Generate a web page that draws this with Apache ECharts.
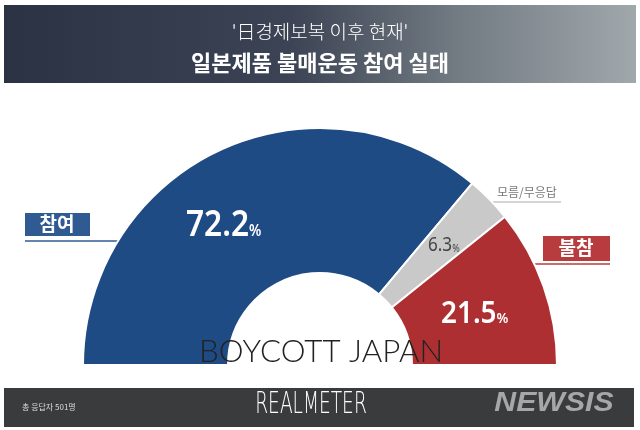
<!DOCTYPE html>
<html><head><meta charset="utf-8">
<script src="https://cdn.jsdelivr.net/npm/echarts@6/dist/echarts.min.js"></script>
<style>html,body{margin:0;padding:0;background:#fff}#c{width:640px;height:430px}</style>
</head><body><div id="c"></div>
<script>
const categories = ['참여', '모름/무응답', '불참'];
const values = [72.2, 6.3, 21.5];
const colors = ['#1f4b84', '#c9c9c9', '#ad2f31'];
const titleLine1 = "'日경제보복 이후 현재'";
const titleLine2 = '일본제품 불매운동 참여 실태';
const footerNote = '총 응답자 501명';

const chart = echarts.init(document.getElementById('c'));
const K = "'Noto Sans CJK KR','Noto Sans',sans-serif";
const NUM = "'Noto Sans','Open Sans',sans-serif";
function pct(v, big, small, color, weight) {
  return {
    text: '{a|' + v.toFixed(1) + '}{b|%}',
    rich: {
      a: {fontSize: big, fontFamily: NUM, fontWeight: weight, fill: color},
      b: {fontSize: small, fontFamily: NUM, fontWeight: weight, fill: color, padding: [Math.round(big * 0.3), 0, 0, 0]}
    },
    textVerticalAlign: 'middle'
  };
}

chart.setOption({
  backgroundColor: '#fff',
  animation: false,
  series: [{
    type: 'pie',
    center: [320, 365],
    radius: [92, 237],
    startAngle: 180,
    endAngle: 0,
    clockwise: true,
    z: 2,
    label: {show: false},
    labelLine: {show: false},
    itemStyle: {borderColor: '#fff', borderWidth: 2},
    data: categories.map((c, i) => ({name: c, value: values[i], itemStyle: {color: colors[i]}}))
  }],
  graphic: [
    {type: 'rect', z: 0, shape: {x: 4, y: 5, width: 632, height: 78}, style: {fill: new echarts.graphic.LinearGradient(0, 0, 1, 0, [
      {offset: 0, color: '#2a3244'}, {offset: 0.45, color: '#3b4354'}, {offset: 0.72, color: '#737b83'}, {offset: 1, color: '#a0a8ac'}])}},
    {type: 'text', z: 1, x: 320, y: 32, style: {text: titleLine1, fill: '#fff', font: '300 19px ' + K, textAlign: 'center', textVerticalAlign: 'middle'}},
    {type: 'text', z: 1, x: 320, y: 63, style: {text: titleLine2, fill: '#fff', font: 'bold 22px ' + K, textAlign: 'center', textVerticalAlign: 'middle'}},

    {type: 'rect', z: 0, shape: {x: 4, y: 388, width: 630, height: 39}, style: {fill: '#3a3b3d'}},
    {type: 'text', z: 1, x: 22, y: 407, style: {text: footerNote, fill: '#ddd', font: '8px ' + K, textVerticalAlign: 'middle'}},
    {type: 'text', z: 1, x: 311, y: 405, scaleX: 0.6, style: {text: 'REALMETER', fill: '#fff', font: '300 31px "DejaVu Sans","Liberation Sans",sans-serif', textAlign: 'center', textVerticalAlign: 'middle'}},
    {type: 'text', z: 1, x: 554, y: 403, scaleX: 1.08, style: {text: 'NEWSIS', fill: '#a7a7a7', font: 'italic 900 28px "Liberation Sans",Arial,sans-serif', textAlign: 'center', textVerticalAlign: 'middle'}},

    // 참여 label
    {type: 'rect', z: 0, shape: {x: 25, y: 213, width: 65, height: 23}, style: {fill: '#2f5b92'}},
    {type: 'text', z: 1, x: 57, y: 224, style: {text: categories[0], fill: '#fff', font: 'bold 19px ' + K, textAlign: 'center', textVerticalAlign: 'middle'}},
    {type: 'line', z: 0, shape: {x1: 25, y1: 241, x2: 125, y2: 241}, style: {stroke: '#2f5b92', lineWidth: 1.5}},
    {type: 'text', z: 10, x: 186, y: 226, scaleX: 0.88, style: pct(values[0], 36, 16, '#fff', 600)},

    // 모름/무응답
    {type: 'text', z: 1, x: 497, y: 192, style: {text: categories[1], fill: '#777', font: '12px ' + K, textVerticalAlign: 'middle'}},
    {type: 'line', z: 0, shape: {x1: 490, y1: 202, x2: 561, y2: 202}, style: {stroke: '#aaa', lineWidth: 1}},
    {type: 'text', z: 10, x: 428, y: 246, scaleX: 0.9, style: pct(values[1], 19, 10, '#444', 400)},

    // 불참
    {type: 'rect', z: 0, shape: {x: 543, y: 236, width: 67, height: 25}, style: {fill: '#b83c3e'}},
    {type: 'text', z: 1, x: 576, y: 248, style: {text: categories[2], fill: '#fff', font: 'bold 19px ' + K, textAlign: 'center', textVerticalAlign: 'middle'}},
    {type: 'line', z: 0, shape: {x1: 530, y1: 264, x2: 610, y2: 264}, style: {stroke: '#b83c3e', lineWidth: 1.5}},
    {type: 'text', z: 10, x: 441, y: 314, scaleX: 0.9, style: pct(values[2], 31, 15, '#fff', 600)},

    {type: 'text', z: 10, x: 321, y: 352, scaleX: 1.01, style: {text: 'BOYCOTT JAPAN', fill: '#222', font: '300 31px "Lato","Open Sans",sans-serif', textAlign: 'center', textVerticalAlign: 'middle'}}
  ]
});
</script></body></html>
